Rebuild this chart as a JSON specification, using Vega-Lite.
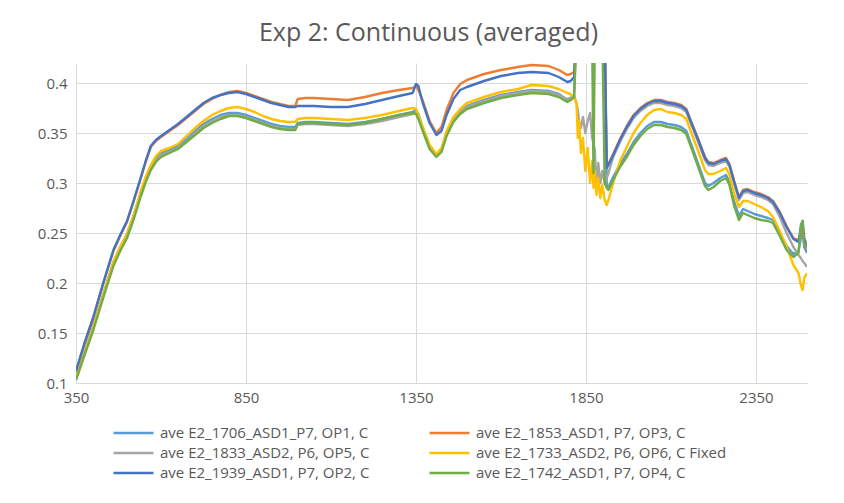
{
"$schema": "https://vega.github.io/schema/vega-lite/v6.json",
"width": 731, "height": 320,
"autosize": {"type": "none"},
"padding": {"left": 76, "top": 63, "right": 37, "bottom": 120},
"background": "white",
"title": {"text": "Exp 2: Continuous (averaged)", "font": "Open Sans", "fontSize": 25, "fontWeight": "normal", "color": "#595959", "offset": 17, "dx": -13},
"data": {"values": [
{"x":350,"a":0.106,"b":0.111,"c":0.104,"d":0.105,"e":0.112,"f":0.103},
{"x":375,"a":0.131,"b":0.139,"c":0.129,"d":0.130,"e":0.140,"f":0.128},
{"x":400,"a":0.156,"b":0.164,"c":0.154,"d":0.155,"e":0.165,"f":0.152},
{"x":430,"a":0.189,"b":0.199,"c":0.187,"d":0.188,"e":0.200,"f":0.185},
{"x":460,"a":0.221,"b":0.232,"c":0.219,"d":0.221,"e":0.233,"f":0.217},
{"x":480,"a":0.236,"b":0.247,"c":0.234,"d":0.236,"e":0.248,"f":0.232},
{"x":500,"a":0.249,"b":0.261,"c":0.247,"d":0.249,"e":0.262,"f":0.245},
{"x":520,"a":0.268,"b":0.282,"c":0.266,"d":0.268,"e":0.283,"f":0.264},
{"x":540,"a":0.290,"b":0.304,"c":0.288,"d":0.291,"e":0.305,"f":0.286},
{"x":555,"a":0.305,"b":0.321,"c":0.303,"d":0.306,"e":0.322,"f":0.301},
{"x":570,"a":0.317,"b":0.336,"c":0.315,"d":0.318,"e":0.337,"f":0.313},
{"x":585,"a":0.325,"b":0.342,"c":0.323,"d":0.327,"e":0.343,"f":0.321},
{"x":600,"a":0.330,"b":0.346,"c":0.328,"d":0.332,"e":0.347,"f":0.326},
{"x":625,"a":0.333,"b":0.352,"c":0.331,"d":0.335,"e":0.353,"f":0.330},
{"x":650,"a":0.337,"b":0.358,"c":0.335,"d":0.339,"e":0.359,"f":0.334},
{"x":675,"a":0.344,"b":0.365,"c":0.342,"d":0.347,"e":0.366,"f":0.341},
{"x":700,"a":0.352,"b":0.372,"c":0.350,"d":0.355,"e":0.373,"f":0.348},
{"x":725,"a":0.359,"b":0.379,"c":0.357,"d":0.362,"e":0.380,"f":0.355},
{"x":750,"a":0.364,"b":0.384,"c":0.362,"d":0.368,"e":0.385,"f":0.360},
{"x":775,"a":0.368,"b":0.388,"c":0.366,"d":0.372,"e":0.388,"f":0.364},
{"x":800,"a":0.370,"b":0.391,"c":0.368,"d":0.375,"e":0.390,"f":0.367},
{"x":825,"a":0.370,"b":0.392,"c":0.368,"d":0.376,"e":0.391,"f":0.367},
{"x":850,"a":0.368,"b":0.390,"c":0.366,"d":0.374,"e":0.389,"f":0.365},
{"x":875,"a":0.365,"b":0.387,"c":0.363,"d":0.371,"e":0.386,"f":0.362},
{"x":900,"a":0.362,"b":0.384,"c":0.360,"d":0.367,"e":0.383,"f":0.359},
{"x":925,"a":0.359,"b":0.381,"c":0.357,"d":0.364,"e":0.380,"f":0.356},
{"x":950,"a":0.357,"b":0.379,"c":0.355,"d":0.362,"e":0.378,"f":0.354},
{"x":975,"a":0.356,"b":0.377,"c":0.354,"d":0.361,"e":0.376,"f":0.353},
{"x":995,"a":0.356,"b":0.377,"c":0.354,"d":0.361,"e":0.376,"f":0.353},
{"x":1002,"a":0.360,"b":0.384,"c":0.358,"d":0.364,"e":0.377,"f":0.359},
{"x":1025,"a":0.361,"b":0.385,"c":0.359,"d":0.365,"e":0.377,"f":0.360},
{"x":1050,"a":0.361,"b":0.385,"c":0.359,"d":0.365,"e":0.377,"f":0.360},
{"x":1100,"a":0.360,"b":0.384,"c":0.358,"d":0.364,"e":0.376,"f":0.359},
{"x":1150,"a":0.359,"b":0.383,"c":0.357,"d":0.363,"e":0.376,"f":0.358},
{"x":1200,"a":0.361,"b":0.386,"c":0.359,"d":0.365,"e":0.379,"f":0.360},
{"x":1250,"a":0.364,"b":0.390,"c":0.362,"d":0.368,"e":0.383,"f":0.364},
{"x":1300,"a":0.368,"b":0.393,"c":0.366,"d":0.372,"e":0.387,"f":0.368},
{"x":1340,"a":0.371,"b":0.395,"c":0.369,"d":0.375,"e":0.390,"f":0.370},
{"x":1350,"a":0.373,"b":0.397,"c":0.371,"d":0.374,"e":0.399,"f":0.369},
{"x":1357,"a":0.369,"b":0.393,"c":0.367,"d":0.368,"e":0.397,"f":0.364},
{"x":1370,"a":0.355,"b":0.382,"c":0.353,"d":0.356,"e":0.380,"f":0.352},
{"x":1390,"a":0.337,"b":0.362,"c":0.335,"d":0.338,"e":0.360,"f":0.334},
{"x":1410,"a":0.328,"b":0.350,"c":0.327,"d":0.329,"e":0.348,"f":0.326},
{"x":1425,"a":0.333,"b":0.356,"c":0.332,"d":0.335,"e":0.352,"f":0.331},
{"x":1440,"a":0.350,"b":0.373,"c":0.349,"d":0.352,"e":0.368,"f":0.347},
{"x":1460,"a":0.364,"b":0.390,"c":0.363,"d":0.366,"e":0.384,"f":0.361},
{"x":1480,"a":0.372,"b":0.399,"c":0.371,"d":0.374,"e":0.393,"f":0.369},
{"x":1500,"a":0.377,"b":0.403,"c":0.376,"d":0.380,"e":0.396,"f":0.374},
{"x":1550,"a":0.383,"b":0.409,"c":0.382,"d":0.386,"e":0.402,"f":0.380},
{"x":1600,"a":0.388,"b":0.413,"c":0.387,"d":0.391,"e":0.407,"f":0.385},
{"x":1650,"a":0.391,"b":0.416,"c":0.390,"d":0.394,"e":0.410,"f":0.388},
{"x":1690,"a":0.393,"b":0.418,"c":0.392,"d":0.398,"e":0.411,"f":0.390},
{"x":1740,"a":0.392,"b":0.417,"c":0.391,"d":0.397,"e":0.410,"f":0.389},
{"x":1770,"a":0.389,"b":0.413,"c":0.388,"d":0.394,"e":0.406,"f":0.386},
{"x":1795,"a":0.383,"b":0.408,"c":0.384,"d":0.390,"e":0.401,"f":0.381},
{"x":1805,"a":0.385,"b":0.409,"c":0.385,"d":0.389,"e":0.402,"f":0.383},
{"x":1815,"a":0.388,"b":0.411,"c":0.387,"d":0.385,"e":0.406,"f":0.386},
{"x":1822,"a":0.45,"b":0.45,"c":0.380,"d":0.380,"e":0.45,"f":0.45},
{"x":1826,"a":0.45,"b":0.45,"c":0.373,"d":0.345,"e":0.45,"f":0.45},
{"x":1830,"a":0.45,"b":0.45,"c":0.360,"d":0.362,"e":0.45,"f":0.45},
{"x":1835,"a":0.45,"b":0.45,"c":0.355,"d":0.330,"e":0.45,"f":0.45},
{"x":1841,"a":0.45,"b":0.45,"c":0.366,"d":0.345,"e":0.45,"f":0.45},
{"x":1848,"a":0.45,"b":0.45,"c":0.350,"d":0.312,"e":0.45,"f":0.45},
{"x":1855,"a":0.45,"b":0.45,"c":0.362,"d":0.335,"e":0.45,"f":0.45},
{"x":1862,"a":0.45,"b":0.45,"c":0.370,"d":0.300,"e":0.45,"f":0.45},
{"x":1868,"a":0.45,"b":0.45,"c":0.345,"d":0.322,"e":0.45,"f":0.45},
{"x":1872,"a":0.45,"b":0.45,"c":0.340,"d":0.295,"e":0.45,"f":0.31},
{"x":1876,"a":0.45,"b":0.45,"c":0.333,"d":0.312,"e":0.45,"f":0.45},
{"x":1881,"a":0.45,"b":0.45,"c":0.293,"d":0.288,"e":0.45,"f":0.45},
{"x":1886,"a":0.45,"b":0.45,"c":0.320,"d":0.305,"e":0.45,"f":0.45},
{"x":1892,"a":0.45,"b":0.45,"c":0.300,"d":0.285,"e":0.45,"f":0.45},
{"x":1898,"a":0.45,"b":0.45,"c":0.312,"d":0.298,"e":0.45,"f":0.45},
{"x":1905,"a":0.45,"b":0.45,"c":0.300,"d":0.283,"e":0.45,"f":0.30},
{"x":1911,"a":0.298,"b":0.316,"c":0.305,"d":0.278,"e":0.315,"f":0.295},
{"x":1916,"a":0.296,"b":0.319,"c":0.310,"d":0.283,"e":0.318,"f":0.293},
{"x":1930,"a":0.306,"b":0.329,"c":0.326,"d":0.300,"e":0.328,"f":0.303},
{"x":1950,"a":0.319,"b":0.344,"c":0.341,"d":0.322,"e":0.343,"f":0.316},
{"x":1970,"a":0.329,"b":0.357,"c":0.354,"d":0.336,"e":0.356,"f":0.326},
{"x":1990,"a":0.341,"b":0.368,"c":0.365,"d":0.350,"e":0.367,"f":0.338},
{"x":2010,"a":0.350,"b":0.375,"c":0.372,"d":0.360,"e":0.374,"f":0.347},
{"x":2030,"a":0.357,"b":0.380,"c":0.377,"d":0.368,"e":0.379,"f":0.354},
{"x":2050,"a":0.361,"b":0.383,"c":0.380,"d":0.373,"e":0.382,"f":0.358},
{"x":2070,"a":0.361,"b":0.383,"c":0.380,"d":0.374,"e":0.382,"f":0.358},
{"x":2090,"a":0.359,"b":0.381,"c":0.378,"d":0.371,"e":0.380,"f":0.356},
{"x":2110,"a":0.358,"b":0.380,"c":0.377,"d":0.370,"e":0.379,"f":0.355},
{"x":2130,"a":0.356,"b":0.378,"c":0.375,"d":0.368,"e":0.377,"f":0.353},
{"x":2145,"a":0.352,"b":0.374,"c":0.371,"d":0.364,"e":0.373,"f":0.349},
{"x":2160,"a":0.338,"b":0.361,"c":0.358,"d":0.350,"e":0.360,"f":0.335},
{"x":2180,"a":0.319,"b":0.344,"c":0.341,"d":0.332,"e":0.343,"f":0.316},
{"x":2200,"a":0.300,"b":0.326,"c":0.323,"d":0.313,"e":0.325,"f":0.297},
{"x":2210,"a":0.297,"b":0.321,"c":0.318,"d":0.309,"e":0.320,"f":0.293},
{"x":2225,"a":0.300,"b":0.320,"c":0.317,"d":0.309,"e":0.319,"f":0.296},
{"x":2245,"a":0.305,"b":0.323,"c":0.320,"d":0.312,"e":0.322,"f":0.302},
{"x":2262,"a":0.308,"b":0.325,"c":0.322,"d":0.315,"e":0.324,"f":0.305},
{"x":2272,"a":0.301,"b":0.319,"c":0.316,"d":0.308,"e":0.318,"f":0.298},
{"x":2285,"a":0.282,"b":0.303,"c":0.300,"d":0.290,"e":0.302,"f":0.278},
{"x":2300,"a":0.267,"b":0.286,"c":0.283,"d":0.276,"e":0.285,"f":0.263},
{"x":2312,"a":0.274,"b":0.293,"c":0.290,"d":0.282,"e":0.292,"f":0.270},
{"x":2325,"a":0.272,"b":0.294,"c":0.291,"d":0.282,"e":0.293,"f":0.268},
{"x":2345,"a":0.269,"b":0.291,"c":0.288,"d":0.279,"e":0.290,"f":0.265},
{"x":2365,"a":0.267,"b":0.289,"c":0.286,"d":0.276,"e":0.288,"f":0.263},
{"x":2385,"a":0.265,"b":0.286,"c":0.283,"d":0.272,"e":0.285,"f":0.262},
{"x":2400,"a":0.263,"b":0.282,"c":0.279,"d":0.266,"e":0.281,"f":0.260},
{"x":2420,"a":0.250,"b":0.271,"c":0.266,"d":0.252,"e":0.270,"f":0.247},
{"x":2440,"a":0.237,"b":0.257,"c":0.250,"d":0.236,"e":0.256,"f":0.233},
{"x":2460,"a":0.229,"b":0.245,"c":0.236,"d":0.218,"e":0.244,"f":0.226},
{"x":2475,"a":0.232,"b":0.243,"c":0.228,"d":0.210,"e":0.241,"f":0.230},
{"x":2482,"a":0.245,"b":0.250,"c":0.225,"d":0.198,"e":0.256,"f":0.258},
{"x":2487,"a":0.250,"b":0.252,"c":0.222,"d":0.193,"e":0.262,"f":0.262},
{"x":2492,"a":0.236,"b":0.240,"c":0.220,"d":0.205,"e":0.245,"f":0.240},
{"x":2500,"a":0.230,"b":0.234,"c":0.216,"d":0.210,"e":0.236,"f":0.236}
]},
"transform": [{"fold": ["a","b","c","d","e","f"], "as": ["s","y"]}],
"mark": {"type": "line", "strokeWidth": 2.4, "clip": true, "strokeJoin": "round"},
"encoding": {
  "x": {"field": "x", "type": "quantitative",
        "scale": {"domain": [350, 2500], "nice": false, "zero": false},
        "axis": {"values": [350, 850, 1350, 1850, 2350], "format": "d", "title": null, "grid": true, "gridColor": "#d9d9d9", "domainColor": "#d9d9d9", "domainWidth": 1, "ticks": false, "labelFont": "Open Sans", "labelFontSize": 15, "labelColor": "#595959", "labelPadding": 7, "labelFlush": false}},
  "y": {"field": "y", "type": "quantitative",
        "scale": {"domain": [0.1, 0.42], "nice": false, "zero": false},
        "axis": {"values": [0.1, 0.15, 0.2, 0.25, 0.3, 0.35, 0.4], "format": "~g", "title": null, "grid": true, "gridColor": "#d9d9d9", "domain": false, "ticks": false, "labelFont": "Open Sans", "labelFontSize": 15, "labelColor": "#595959", "labelPadding": 9}},
  "color": {"field": "s", "type": "nominal",
        "scale": {"domain": ["a","b","c","d","e","f"], "range": ["#5B9BD5","#ED7D31","#A5A5A5","#FFC000","#4472C4","#70AD47"]},
        "legend": {"orient": "none", "legendX": 36, "legendY": 360, "title": null, "columns": 2, "direction": "horizontal",
                   "symbolType": "stroke", "symbolSize": 1600, "symbolStrokeWidth": 2.5, "clipHeight": 20,
                   "labelFont": "Open Sans", "labelFontSize": 15, "labelColor": "#595959", "labelLimit": 400, "labelOffset": 5,
                   "columnPadding": 58, "rowPadding": 0,
                   "labelExpr": "datum.value == 'a' ? 'ave E2_1706_ASD1_P7, OP1, C' : datum.value == 'b' ? 'ave E2_1853_ASD1, P7, OP3, C' : datum.value == 'c' ? 'ave E2_1833_ASD2, P6, OP5, C' : datum.value == 'd' ? 'ave E2_1733_ASD2, P6, OP6, C Fixed' : datum.value == 'e' ? 'ave E2_1939_ASD1, P7, OP2, C' : 'ave E2_1742_ASD1, P7, OP4, C'"}}
},
"config": {"view": {"stroke": null}}
}
